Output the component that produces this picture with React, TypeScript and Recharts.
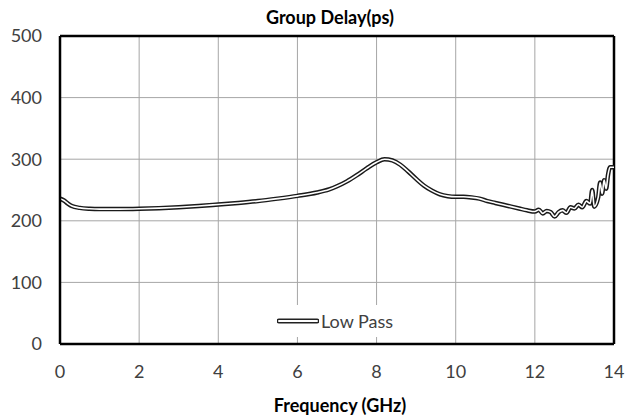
import React from "react";
import { LineChart, Line, XAxis, YAxis, CartesianGrid, ReferenceLine } from "recharts";

const freqGHz = [0, 0.1, 0.2, 0.3, 0.5, 0.75, 1, 1.5, 2, 2.5, 3, 3.5, 4, 4.5, 5, 5.5, 6, 6.5, 6.8, 7, 7.25, 7.5, 7.75, 8, 8.2, 8.4, 8.6, 8.8, 9, 9.2, 9.4, 9.6, 9.8, 10, 10.2, 10.4, 10.6, 10.8, 11, 11.2, 11.4, 11.6, 11.8, 12, 12.1, 12.2, 12.3, 12.4, 12.5, 12.6, 12.7, 12.8, 12.9, 13.0, 13.1, 13.2, 13.3, 13.4, 13.45, 13.5, 13.6, 13.65, 13.7, 13.75, 13.8, 13.85, 13.9, 14.0];
const groupDelayPs = [236, 233, 228, 224, 221, 219.5, 219, 219, 219.5, 220.5, 222, 224, 226.5, 229, 232, 236, 240.5, 246, 251, 256, 264, 274, 285, 295, 300, 298, 291, 280, 268, 257, 249, 243, 240, 239, 239, 238, 236, 232, 229, 226, 223, 220, 217, 215, 218, 212, 216, 214, 207, 214, 217, 213, 222, 220, 226, 222, 232, 228, 250, 223, 238, 262, 244, 266, 252, 275, 287, 287];
const xTicks = [0, 2, 4, 6, 8, 10, 12, 14];
const yTicks = [0, 100, 200, 300, 400, 500];
const seriesName = "Low Pass";

const data = freqGHz.map((f, i) => ({ f, v: groupDelayPs[i] }));

const FONT = "Lato, 'Liberation Sans', sans-serif";

export default function App() {
  return (
    <div style={{ position: "absolute", left: 0, top: 0, width: 642, height: 417, background: "#fff", fontFamily: FONT }}>
      <LineChart width={642} height={417} data={data} margin={{ top: 36, right: 28, left: 0, bottom: 43 }}>
        <CartesianGrid stroke="#a6a6a6" strokeWidth={1} horizontalValues={yTicks} verticalValues={xTicks} />
        <XAxis
          dataKey="f"
          type="number"
          domain={[0, 14]}
          ticks={xTicks}
          tickLine={false}
          tickSize={6}
          tickMargin={15}
          axisLine={{ stroke: "#000", strokeWidth: 2.5 }}
          tick={{ fill: "#404040", fontSize: 18, fontFamily: FONT }}
          height={30}
        />
        <YAxis
          type="number"
          domain={[0, 500]}
          ticks={yTicks}
          tickLine={false}
          tickSize={6}
          tickMargin={12}
          axisLine={{ stroke: "#000", strokeWidth: 2.5 }}
          tick={{ fill: "#404040", fontSize: 18, fontFamily: FONT }}
          width={60}
        />
        <ReferenceLine y={500} stroke="#000" strokeWidth={2.5} />
        <ReferenceLine x={14} stroke="#000" strokeWidth={2.5} />
        <Line dataKey="v" name={seriesName} type="monotone" stroke="#1a1a1a" strokeWidth={4.5} dot={false} isAnimationActive={false} />
        <Line dataKey="v" type="monotone" stroke="#ffffff" strokeWidth={1.6} dot={false} isAnimationActive={false} />
      </LineChart>
      <div style={{ position: "absolute", top: 6, left: 0, width: 660, textAlign: "center", fontWeight: 700, fontSize: 18, color: "#000" }}>
        Group Delay(ps)
      </div>
      <div style={{ position: "absolute", left: 271, top: 305, display: "flex", alignItems: "center", background: "#fff", padding: "5px 6px", fontSize: 18, color: "#404040" }}>
        <svg width={42} height={10} style={{ marginRight: 2 }}>
          <line x1={2} y1={5} x2={40} y2={5} stroke="#222" strokeWidth={5} strokeLinecap="round" />
          <line x1={2} y1={5} x2={40} y2={5} stroke="#fff" strokeWidth={2} strokeLinecap="round" />
        </svg>
        <span>{seriesName}</span>
      </div>
      <div style={{ position: "absolute", top: 394, left: 0, width: 680, textAlign: "center", fontWeight: 700, fontSize: 18, color: "#000" }}>
        Frequency (GHz)
      </div>
    </div>
  );
}
